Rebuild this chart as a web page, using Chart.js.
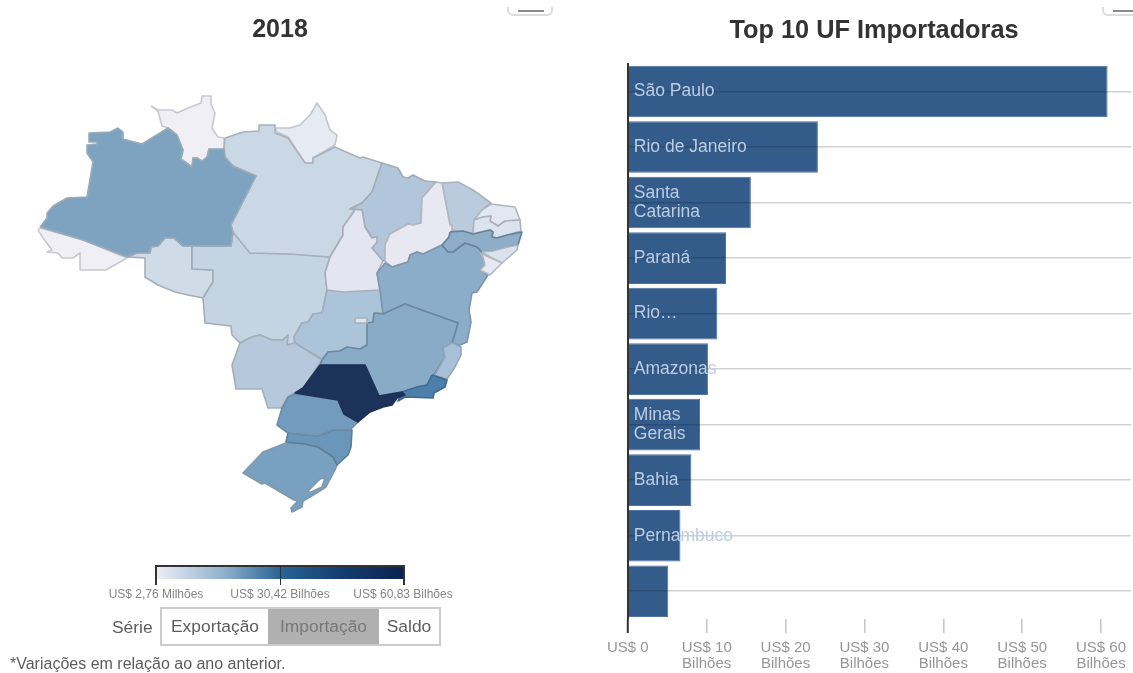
<!DOCTYPE html>
<html lang="pt-BR">
<head>
<meta charset="utf-8">
<title>Importações 2018</title>
<script src="https://cdn.jsdelivr.net/npm/chart.js@4/dist/chart.umd.min.js"></script>
<style>
html,body{margin:0;padding:0;background:#fff;width:1133px;height:673px;overflow:hidden;font-family:"Liberation Sans",Arial,sans-serif}
#stage{position:absolute;left:0;top:0;width:1133px;height:673px;overflow:hidden;filter:blur(.6px)}
canvas{position:absolute;top:0}
#mapCanvas{left:0}
#barCanvas{left:600px}
.abs{position:absolute;white-space:nowrap}
.stub{position:absolute;top:7px;height:7px;border:2px solid #dcdcdc;border-top:none;border-radius:0 0 6px 6px;box-sizing:content-box}
.stub i{position:absolute;top:3px;height:1.5px;background:#8a8a8a}
#grad{left:155px;top:565px;width:249px;height:12px;border-top:2px solid #333;background:linear-gradient(90deg,#f0eff5 0%,#8fb0cc 28%,#2a6496 50%,#143d70 75%,#0c2350 100%)}
.gt{position:absolute;width:1.6px;top:565px;height:20px;background:#333}
.ll{top:587px;font-size:12px;color:#858585;transform:translateX(-50%)}
#seg{left:160px;top:607px;width:281px;height:39px;box-sizing:border-box;border:2px solid #ccc;display:flex;font-size:17.4px;color:#5c5c5c}
#seg div{display:flex;align-items:center;justify-content:center;height:100%}
</style>
</head>
<body>
<div id="stage">
<canvas id="mapCanvas" width="560" height="673"></canvas>
<canvas id="barCanvas" width="548" height="673"></canvas>
<div class="stub" style="left:507px;width:42px"><i style="left:9px;width:26px"></i></div>
<div class="stub" style="left:1102px;width:60px"><i style="left:9px;width:40px"></i></div>
<div class="abs" id="grad"></div>
<div class="gt" style="left:155px"></div><div class="gt" style="left:279.5px"></div><div class="gt" style="left:403px"></div>
<div class="abs ll" id="l0" style="left:156px"></div>
<div class="abs ll" id="l1" style="left:280px"></div>
<div class="abs ll" id="l2" style="left:403px"></div>
<div class="abs" id="serie" style="left:112px;top:617px;font-size:17.4px;color:#5c5c5c"></div>
<div class="abs" id="seg"></div>
<div class="abs" id="note" style="left:10px;top:655px;font-size:16px;color:#5c5c5c"></div>
</div>
<script>
/* ---------- text ---------- */
const mapTitle = '2018';
const barTitle = 'Top 10 UF Importadoras';
const legendLabels = ['US$ 2,76 Milhões', 'US$ 30,42 Bilhões', 'US$ 60,83 Bilhões'];
const seriesLabel = 'Série';
const seriesOptions = ['Exportação', 'Importação', 'Saldo'];
const noteText = '*Variações em relação ao ano anterior.';

/* ---------- bar chart data ---------- */
const ufCategories = ['São Paulo', 'Rio de Janeiro', ['Santa', 'Catarina'], 'Paraná', 'Rio…', 'Amazonas', ['Minas', 'Gerais'], 'Bahia', 'Pernambuco', ''];
const ufImports = [60.83, 24.1, 15.6, 12.45, 11.35, 10.16, 9.15, 8.06, 6.67, 5.13];
const xTickValues = [0, 10, 20, 30, 40, 50, 60];
const xTickLine1 = ['US$ 0', 'US$ 10', 'US$ 20', 'US$ 30', 'US$ 40', 'US$ 50', 'US$ 60'];
const xTickLine2 = ['', 'Bilhões', 'Bilhões', 'Bilhões', 'Bilhões', 'Bilhões', 'Bilhões'];

/* ---------- map outlines, in map units ---------- */
const RR = [[151,106],[158,111],[162,126],[168,128],[177,135],[183,150],[181,159],[192,167],[193,158],[197,158],[202,161],[207,157],[209,149],[224,149],[224,138],[218,137],[212,128],[215,113],[211,104],[211,96],[202,96],[201,103],[188,108],[177,113],[172,110],[158,110],[151,106]];
const AC = [[38,230],[43,238],[52,250],[47,252],[58,253],[62,258],[73,258],[80,253],[80,270],[106,270],[127,258],[83,240],[40,228],[38,230]];
const AP = [[275,128],[277,132],[288,137],[305,163],[313,163],[313,158],[335,145],[337,135],[330,130],[325,115],[317,103],[310,115],[300,125],[290,128],[275,128]];
const PI = [[436,182],[442,183],[450,225],[452,225],[452,230],[449,237],[442,245],[423,254],[417,252],[410,255],[408,262],[392,267],[385,261],[385,245],[390,234],[408,224],[413,225],[421,223],[422,198],[436,182]];
const TO = [[350,209],[362,210],[365,227],[372,238],[377,237],[377,242],[372,248],[383,261],[377,273],[380,290],[343,292],[327,290],[325,273],[330,257],[343,235],[343,227],[355,210],[350,209]];
const SE = [[480,253],[502,263],[490,275],[480,270],[485,265],[483,257],[480,253]];
const RN = [[491,204],[515,207],[520,220],[505,221],[498,226],[490,221],[491,216],[483,217],[474,220],[482,210],[491,204]];
const PB = [[474,220],[483,217],[491,216],[490,221],[498,226],[505,221],[520,220],[521,231],[507,235],[497,238],[492,237],[493,232],[490,230],[473,234],[474,220]];
const AL = [[482,252],[493,251],[508,247],[518,245],[517,250],[502,263],[490,257],[482,252]];
const DF = [[355,318],[367,318],[367,323],[355,323],[355,318]];
const RO = [[127,257],[145,258],[145,277],[158,285],[175,292],[188,295],[203,298],[213,282],[213,270],[192,269],[192,246],[183,246],[174,238],[165,238],[158,246],[151,247],[150,253],[137,253],[127,257]];
const MT = [[192,246],[231,246],[233,232],[250,253],[290,254],[330,257],[325,273],[327,290],[322,313],[313,314],[308,322],[302,323],[294,337],[295,343],[287,345],[288,335],[283,340],[272,340],[260,335],[252,337],[240,343],[232,335],[231,326],[205,323],[203,298],[213,282],[213,270],[192,269],[192,246]];
const PA = [[225,138],[243,132],[259,131],[259,125],[275,125],[275,133],[288,138],[305,163],[313,163],[313,158],[335,147],[353,155],[360,158],[363,157],[382,163],[372,192],[362,203],[350,209],[355,210],[343,227],[343,235],[330,257],[290,254],[250,253],[233,232],[231,225],[256,176],[233,166],[225,157],[224,149],[225,138]];
const CE = [[442,183],[458,182],[473,190],[491,203],[482,210],[474,220],[473,233],[463,232],[452,230],[452,225],[450,225],[442,183]];
const MA = [[382,163],[398,168],[403,177],[408,178],[413,175],[425,181],[436,182],[422,198],[421,223],[413,225],[408,224],[390,234],[385,245],[385,261],[383,261],[372,248],[377,242],[377,237],[372,238],[365,227],[362,210],[350,209],[362,203],[372,192],[382,163]];
const MS = [[240,343],[252,337],[260,335],[272,340],[283,340],[288,335],[287,345],[295,343],[322,360],[303,388],[295,393],[290,395],[282,408],[268,408],[262,389],[236,389],[232,365],[240,343]];
const GO = [[327,290],[380,290],[383,313],[374,313],[373,322],[367,323],[367,345],[360,349],[347,347],[340,351],[328,352],[322,359],[295,343],[294,337],[302,323],[308,322],[313,314],[322,313],[327,290]];
const ES = [[443,348],[452,343],[461,347],[461,355],[455,367],[447,379],[435,375],[445,357],[443,348]];
const AM = [[40,227],[47,218],[47,213],[53,206],[67,198],[87,197],[93,162],[87,153],[87,145],[97,144],[97,142],[89,142],[89,133],[110,132],[118,128],[123,132],[123,139],[142,144],[168,128],[177,135],[183,150],[181,159],[192,167],[193,158],[197,158],[202,161],[207,157],[209,149],[224,149],[225,157],[233,166],[256,176],[231,225],[233,232],[231,246],[183,246],[174,238],[165,238],[158,246],[151,247],[150,253],[137,253],[127,257],[83,240],[40,227]];
const BA = [[442,245],[448,252],[453,252],[465,243],[477,247],[482,252],[484,257],[485,265],[480,270],[488,275],[477,292],[472,293],[469,310],[471,322],[467,342],[460,345],[452,343],[458,323],[405,304],[383,314],[380,290],[377,273],[385,263],[392,267],[408,262],[410,255],[417,252],[423,254],[442,245]];
const PE = [[450,232],[463,231],[473,234],[490,230],[493,232],[492,237],[497,238],[507,235],[522,232],[518,245],[508,247],[493,251],[482,252],[477,247],[465,243],[453,252],[448,252],[442,245],[449,237],[450,232]];
const MG = [[322,360],[328,352],[340,351],[347,347],[360,349],[367,345],[367,323],[373,322],[374,313],[383,314],[405,304],[458,323],[452,343],[443,348],[445,357],[435,373],[427,385],[417,387],[402,392],[379,396],[365,365],[320,365],[322,360]];
const RS = [[286,443],[305,444],[318,447],[333,457],[337,465],[335,470],[326,487],[310,497],[303,501],[302,507],[292,512],[291,508],[298,501],[294,500],[265,483],[262,484],[243,473],[263,452],[286,443]];
const LAGOA = [[307,492],[320,479],[325,478],[322,487],[311,492],[307,492]];
const SC = [[288,433],[318,436],[333,430],[352,430],[351,447],[348,455],[337,465],[333,457],[318,447],[305,444],[286,442],[288,433]];
const PR = [[295,394],[338,400],[344,414],[358,422],[350,430],[333,430],[318,436],[288,433],[277,425],[282,408],[288,397],[295,394]];
const RJ = [[432,375],[447,380],[445,387],[434,393],[433,398],[405,397],[398,401],[402,392],[417,387],[427,385],[432,375]];
const SP = [[320,365],[365,365],[379,396],[402,392],[405,395],[397,398],[392,405],[383,407],[370,412],[358,422],[344,414],[338,400],[295,393],[303,388],[320,365]];

/* drawing sequence: first listed is painted first */
const mapShapes = [RR, AC, AP, RO, MT, PA, CE, MA, MS, GO, TO, PI, RN, PB, AM, BA, PE, AL, SE, MG, ES, DF, RS, LAGOA, SC, PR, RJ, SP];
const mapFills = ['#f0eff5','#f0eff5','#e6eaf3','#cfdce8','#c5d4e3','#cad7e5','#b9cbdd','#b1c6da','#b6c9dc','#acc4da','#e3e6f0','#e8e8f2','#e2e7f1','#dbe3ed','#7ea3c1','#8badca','#8dadc9','#dae3ed','#e6e9f2','#88abc8','#a8c1d8','#dce4ee','#79a0c0','#ffffff','#6a96ba','#739bbe','#4e7fab','#1c3259'];
const mapStrokes = ['#c8c9cf','#c8c9cf','#c0c6cf','#a6aeb8','#a2acb8','#a8b1bc','#a8b3bf','#9fabb8','#a4aeb9','#a0adba','#a8aeb8','#b4b6bf','#b0b6bf','#aab2bb','#9cabb8','#7d95ab','#668299','#b0b6bf','#b4b7c0','#6c889f','#93a7ba','#a8b0ba','#7f98ad','#7f98ad','#5e7d97','#6e8ba3','#3f6a90','#1c3259'];

/* ---------- HTML furniture ---------- */
legendLabels.forEach((t, i) => document.getElementById('l' + i).textContent = t);
document.getElementById('serie').textContent = seriesLabel;
document.getElementById('note').textContent = noteText;
const segWidths = [106, 111, 60];
seriesOptions.forEach((t, i) => {
  const d = document.createElement('div');
  d.textContent = t;
  d.style.width = segWidths[i] + 'px';
  if (i === 1) { d.style.background = '#b0b0b0'; d.style.color = '#787878'; }
  document.getElementById('seg').appendChild(d);
});

const titleFamily = '"Liberation Sans", Arial, sans-serif';

/* ---------- map ---------- */
new Chart(document.getElementById('mapCanvas'), {
  type: 'scatter',
  data: {
    datasets: mapShapes.map((shape, i) => ({
      data: shape.map(p => ({ x: p[0], y: p[1] })),
      showLine: true,
      fill: 'shape',
      backgroundColor: mapFills[i],
      borderColor: mapStrokes[i],
      borderWidth: 1.6,
      borderJoinStyle: 'round',
      pointRadius: 0,
      pointHoverRadius: 0,
      tension: 0,
      clip: false,
      order: mapShapes.length - i
    }))
  },
  options: {
    responsive: false,
    animation: false,
    layout: { padding: 0 },
    plugins: {
      legend: { display: false },
      tooltip: { enabled: false },
      title: { display: true, text: mapTitle, color: '#333', font: { family: titleFamily, size: 25, weight: 'bold', lineHeight: 1 }, padding: { top: 18, bottom: 0 } }
    },
    scales: {
      x: { type: 'linear', display: false, min: 0, max: 560 },
      y: { type: 'linear', display: false, reverse: true, min: 43, max: 673 }
    }
  }
});

/* ---------- bars ---------- */
new Chart(document.getElementById('barCanvas'), {
  type: 'bar',
  data: {
    labels: ufCategories,
    datasets: [{
      data: ufImports,
      backgroundColor: 'rgba(35,80,130,0.93)',
      borderColor: 'rgba(60,100,150,0.9)',
      borderWidth: 1,
      barPercentage: 0.93,
      categoryPercentage: 1
    }]
  },
  options: {
    indexAxis: 'y',
    responsive: false,
    animation: false,
    layout: { padding: { left: 17, right: 17, top: 0, bottom: 0 } },
    plugins: {
      legend: { display: false },
      tooltip: { enabled: false },
      title: { display: true, text: barTitle, color: '#333', font: { family: titleFamily, size: 25.3, weight: 'bold', lineHeight: 1 }, padding: { top: 18, bottom: 20.4 } }
    },
    scales: {
      y: {
        type: 'category',
        afterFit: s => { s.width = 9.2; },
        border: { color: '#333', width: 2, z: 2 },
        grid: { offset: false, color: 'rgba(0,0,0,0.18)', lineWidth: 1.6, z: 1, drawTicks: false },
        ticks: {
          mirror: true, padding: 6, z: 2, autoSkip: false,
          color: '#bccde2',
          font: { family: '"Liberation Sans", Arial, sans-serif', size: 17.5, lineHeight: 1.08 }
        }
      },
      x: {
        type: 'linear',
        min: 0,
        max: 63.8,
        afterFit: s => { s.height = 54; },
        afterBuildTicks: s => { s.ticks = xTickValues.map(v => ({ value: v })); },
        border: { display: false },
        grid: {
          drawOnChartArea: false, tickLength: 14, lineWidth: 1.6,
          tickColor: c => c.index === 0 ? '#333' : '#c8c8c8',
          tickWidth: c => c.index === 0 ? 2 : 1.6
        },
        ticks: {
          maxRotation: 0, autoSkip: false, padding: 7, color: '#969696',
          font: { family: '"Liberation Sans", Arial, sans-serif', size: 15, lineHeight: 1.07 },
          callback: (v, i) => xTickLine2[i] ? [xTickLine1[i], xTickLine2[i]] : xTickLine1[i]
        }
      }
    }
  }
});
</script>
</body>
</html>
